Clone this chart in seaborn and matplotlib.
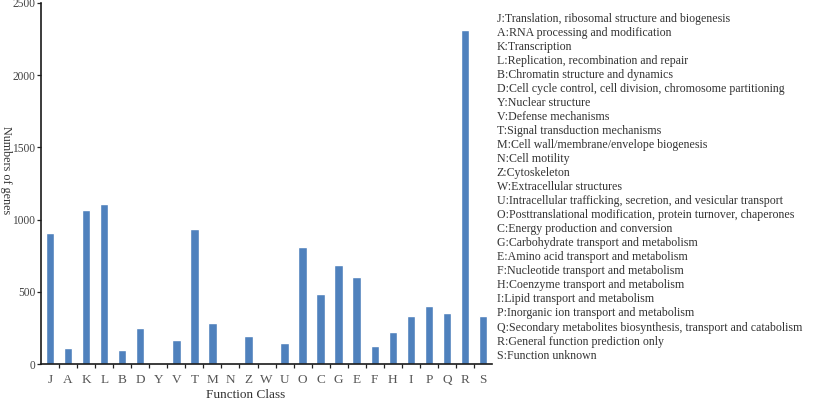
import matplotlib
matplotlib.use("Agg")
import matplotlib.pyplot as plt
import seaborn as sns
import pandas as pd
from matplotlib.ticker import FixedLocator

classes = ['J', 'A', 'K', 'L', 'B', 'D', 'Y', 'V', 'T', 'M', 'N', 'Z', 'W',
           'U', 'O', 'C', 'G', 'E', 'F', 'H', 'I', 'P', 'Q', 'R', 'S']
genes = [907, 108, 1066, 1108, 97, 251, 0, 166, 932, 284, 3, 194, 0,
         148, 812, 482, 688, 602, 127, 222, 332, 404, 353, 2313, 334]
descriptions = [
    'Translation, ribosomal structure and biogenesis',
    'RNA processing and modification',
    'Transcription',
    'Replication, recombination and repair',
    'Chromatin structure and dynamics',
    'Cell cycle control, cell division, chromosome partitioning',
    'Nuclear structure',
    'Defense mechanisms',
    'Signal transduction mechanisms',
    'Cell wall/membrane/envelope biogenesis',
    'Cell motility',
    'Cytoskeleton',
    'Extracellular structures',
    'Intracellular trafficking, secretion, and vesicular transport',
    'Posttranslational modification, protein turnover, chaperones',
    'Energy production and conversion',
    'Carbohydrate transport and metabolism',
    'Amino acid transport and metabolism',
    'Nucleotide transport and metabolism',
    'Coenzyme transport and metabolism',
    'Lipid transport and metabolism',
    'Inorganic ion transport and metabolism',
    'Secondary metabolites biosynthesis, transport and catabolism',
    'General function prediction only',
    'Function unknown',
]

df = pd.DataFrame({'Function Class': classes, 'Numbers of genes': genes})

sns.set_style('ticks')
plt.rcParams['font.family'] = ['Liberation Serif', 'DejaVu Serif']

fig = plt.figure(figsize=(8.29, 4.05), dpi=100)
ax = fig.add_axes([0.0495, 0.1012, 0.544, 0.8914])
sns.barplot(data=df, x='Function Class', y='Numbers of genes', color='#4F81BD',
            saturation=1, width=0.47, ax=ax)

ax.set_ylim(0, 2500)
ax.set_xlim(-0.5, len(classes) - 0.5)
ax.set_yticks([0, 500, 1000, 1500, 2000, 2500])
ax.tick_params(axis='y', labelsize=8.3, length=3, width=0.9, pad=1, color='#222222')
ax.tick_params(axis='x', which='major', labelsize=9.5, length=0, pad=7)
ax.xaxis.set_minor_locator(FixedLocator([i + 0.5 for i in range(len(classes) - 1)]))
ax.tick_params(axis='x', which='minor', length=3, width=0.9, direction='out', color='#222222')
for lab in ax.get_yticklabels():
    lab.set_color('#444444')
for lab in ax.get_xticklabels():
    lab.set_color('#555555')
sns.despine(ax=ax)
for side in ['left', 'bottom']:
    ax.spines[side].set_color('#1a1a1a')
    ax.spines[side].set_linewidth(1.2)
ax.set_xlabel('')
ax.set_ylabel('')

fig.text(0.296, 0.025, 'Function Class', fontsize=9.5, ha='center', va='center', color='#333333')
fig.text(0.0075, 0.58, 'Numbers of genes', fontsize=8.7, rotation=270, ha='center', va='center',
         color='#333333')

legend_text = '\n'.join(f'{c}:{d}' for c, d in zip(classes, descriptions))
fig.text(0.599, 0.968, legend_text, fontsize=8.6, ha='left', va='top', linespacing=1.225,
         color='#333333')

fig.savefig('out.png', dpi=100)
